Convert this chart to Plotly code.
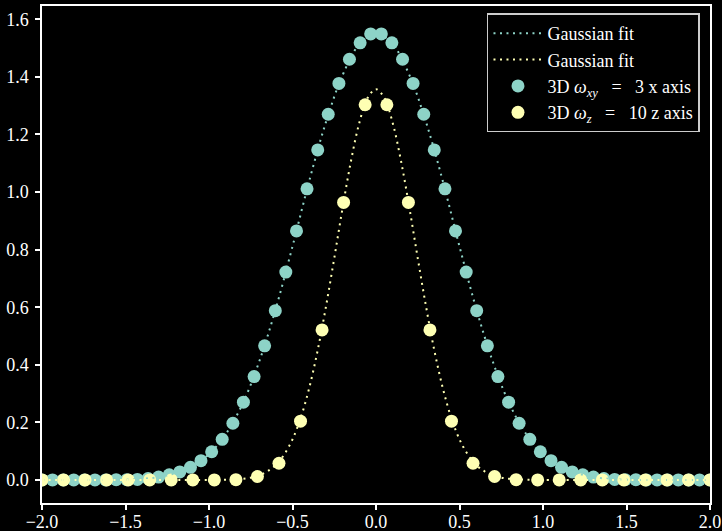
import plotly.graph_objects as go

# ---- data (left halves, mirrored about x=0) ----
x_xy_left = [-2.0, -1.937, -1.873, -1.810, -1.746, -1.683, -1.619, -1.556,
             -1.492, -1.429, -1.365, -1.302, -1.238, -1.175, -1.111, -1.048,
             -0.984, -0.921, -0.857, -0.794, -0.730, -0.667, -0.603, -0.540,
             -0.476, -0.413, -0.349, -0.286, -0.222, -0.159, -0.095, -0.032]
y_xy_left = [0.0, 0.0, 0.0, 0.0, 0.0, 0.0, 0.0, 0.001,
             0.001, 0.002, 0.005, 0.010, 0.018, 0.028, 0.044, 0.067,
             0.098, 0.141, 0.197, 0.270, 0.359, 0.466, 0.588, 0.722,
             0.865, 1.011, 1.146, 1.270, 1.377, 1.461, 1.518, 1.549]

x_z_left = [-2.0, -1.871, -1.742, -1.613, -1.484, -1.355, -1.226, -1.097,
            -0.968, -0.839, -0.710, -0.581, -0.452, -0.323, -0.194, -0.065]
y_z_left = [0.0, 0.0, 0.0, 0.0, 0.0, 0.0, 0.0, 0.0,
            0.0, 0.001, 0.012, 0.058, 0.204, 0.521, 0.964, 1.303]

fit_xy_x_right = [0.0, 0.1, 0.2, 0.3, 0.4, 0.5, 0.6, 0.7, 0.8, 0.9, 1.0,
                  1.1, 1.2, 1.3, 1.4, 1.5, 1.6, 1.7, 1.8, 1.9, 2.0]
fit_xy_y_right = [1.553, 1.513, 1.406, 1.242, 1.038, 0.811, 0.595, 0.410,
                  0.263, 0.159, 0.090, 0.048, 0.024, 0.010, 0.004, 0.001,
                  0.0, 0.0, 0.0, 0.0, 0.0]

fit_z_x_right = [0.0, 0.05, 0.10, 0.15, 0.20, 0.25, 0.30, 0.35, 0.40, 0.45,
                 0.50, 0.55, 0.60, 0.65, 0.70, 0.75, 0.80, 0.85, 0.90, 0.95,
                 1.0, 1.2, 1.4, 1.6, 1.8, 2.0]
fit_z_y_right = [1.357, 1.327, 1.240, 1.107, 0.945, 0.770, 0.601, 0.448,
                 0.319, 0.217, 0.141, 0.088, 0.052, 0.030, 0.016, 0.008,
                 0.004, 0.002, 0.001, 0.0004, 0.0002, 0.0, 0.0, 0.0, 0.0, 0.0]

x_ticks = [-2.0, -1.5, -1.0, -0.5, 0.0, 0.5, 1.0, 1.5, 2.0]
y_ticks = [0.0, 0.2, 0.4, 0.6, 0.8, 1.0, 1.2, 1.4, 1.6]

def mirror_left(xl, yl):
    return xl + [-v for v in reversed(xl)], yl + list(reversed(yl))

def mirror_right(xr, yr):
    xs = [-v for v in reversed(xr[1:])] + xr
    ys = list(reversed(yr[1:])) + yr
    return xs, ys

x_xy, y_xy = mirror_left(x_xy_left, y_xy_left)
x_z, y_z = mirror_left(x_z_left, y_z_left)
fx_xy, fy_xy = mirror_right(fit_xy_x_right, fit_xy_y_right)
fx_z, fy_z = mirror_right(fit_z_x_right, fit_z_y_right)

TEAL = "#8dd3c7"
YEL = "#feffb3"
FONT = "Liberation Serif"
NB = "\u00a0"
EQ = f"{NB*3}={NB*3}"

fig = go.Figure()
fig.add_trace(go.Scatter(x=x_xy, y=y_xy, mode="markers",
                         marker=dict(color=TEAL, size=13, line=dict(width=0)),
                         name=f"3D <i>ω</i><sub><i>xy</i></sub>{EQ}3 x axis",
                         legendrank=3))
fig.add_trace(go.Scatter(x=x_z, y=y_z, mode="markers",
                         marker=dict(color=YEL, size=13, line=dict(width=0)),
                         name=f"3D <i>ω</i><sub><i>z</i></sub>{EQ}10 z axis",
                         legendrank=4))
fig.add_trace(go.Scatter(x=fx_xy, y=fy_xy, mode="lines",
                         line=dict(color=TEAL, width=2, dash="2px,4.5px", shape="spline"),
                         name="Gaussian fit", legendrank=1))
fig.add_trace(go.Scatter(x=fx_z, y=fy_z, mode="lines",
                         line=dict(color=YEL, width=2, dash="2px,4.5px", shape="spline"),
                         name="Gaussian fit", legendrank=2))

axis_common = dict(showgrid=False, zeroline=False, showline=True, linecolor="white",
                   linewidth=1.5, mirror=True, ticks="outside", tickcolor="white",
                   ticklen=5, tickwidth=1.5, automargin=False,
                   tickfont=dict(family=FONT, size=18, color="white"))

fig.update_layout(
    template="none",
    width=722, height=531,
    margin=dict(l=42, r=12, t=6, b=28, autoexpand=False),
    paper_bgcolor="black", plot_bgcolor="black",
    font=dict(family=FONT, color="white", size=18),
    xaxis=dict(range=[-2, 2], tickvals=x_ticks, ticklabelstandoff=-3,
               ticktext=[f"{v:.1f}".replace("-", "−") for v in x_ticks], **axis_common),
    yaxis=dict(range=[-0.08, 1.646], tickvals=y_ticks, ticklabelstandoff=3,
               ticktext=[f"{v:.1f}" for v in y_ticks], **axis_common),
    legend=dict(x=0.985, y=0.985, xanchor="right", yanchor="top",
                bgcolor="black", bordercolor="#cccccc", borderwidth=1.5,
                font=dict(family=FONT, size=18, color="white"),
                tracegroupgap=0, itemwidth=49),
    showlegend=True,
)

fig.write_html("out.html")
